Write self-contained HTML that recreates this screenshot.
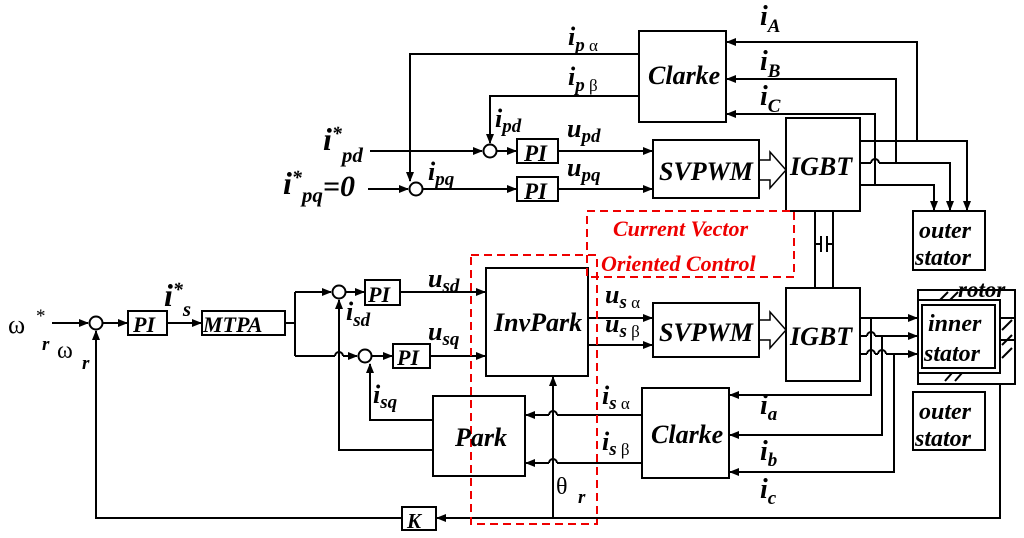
<!DOCTYPE html><html><head><style>body{margin:0;background:#fff}svg{display:block}
text{font-family:"Liberation Serif",serif;font-weight:bold;font-style:italic;fill:#000}
.n{font-style:normal;font-weight:normal}
.r{fill:#e00}</style></head><body>
<svg width="1024" height="538" viewBox="0 0 1024 538">
<defs><marker id="a" markerWidth="10" markerHeight="8" refX="9" refY="4" orient="auto" markerUnits="userSpaceOnUse"><path d="M0,0L10,4L0,8z" fill="#000"/></marker></defs>
<g stroke="#000" stroke-width="2" fill="none">
<rect x="639" y="31" width="87" height="91"/>
<rect x="786" y="118" width="74" height="93"/>
<rect x="913" y="211" width="72" height="59"/>
<rect x="653" y="140" width="106" height="58"/>
<rect x="517" y="139" width="41" height="24"/>
<rect x="517" y="177" width="41" height="24"/>
<rect x="786" y="288" width="74" height="93"/>
<rect x="486" y="268" width="102" height="108"/>
<rect x="653" y="303" width="106" height="54"/>
<rect x="642" y="388" width="87" height="90"/>
<rect x="433" y="396" width="92" height="80"/>
<rect x="402" y="507" width="34" height="23"/>
<rect x="128" y="311" width="39" height="24"/>
<rect x="202" y="311" width="83" height="24"/>
<rect x="365" y="280" width="35" height="25"/>
<rect x="393" y="344" width="37" height="24"/>
<rect x="913" y="392" width="72" height="58"/>
<rect x="918" y="290" width="97" height="94"/>
<rect x="918" y="300" width="82" height="73"/>
<rect x="922" y="305" width="73" height="63"/>
<path d="M1000,318H1014M1000,340H1014M1002,330L1012,320M1002,345L1012,335M1002,358L1012,348M940,300L948,292M950,300L958,292M945,381L952,373M955,381L962,373"/>
<circle cx="490" cy="151" r="6.5"/><circle cx="416" cy="189" r="6.5"/>
<circle cx="96" cy="323" r="6.5"/><circle cx="339" cy="292" r="6.5"/><circle cx="365" cy="356" r="6.5"/>
<path d="M370,151H482" marker-end="url(#a)"/>
<path d="M497,151H516" marker-end="url(#a)"/>
<path d="M558,151H652" marker-end="url(#a)"/>
<path d="M368,189H408" marker-end="url(#a)"/>
<path d="M423,189H516" marker-end="url(#a)"/>
<path d="M558,189H652" marker-end="url(#a)"/>
<path d="M639,54H410V181" marker-end="url(#a)"/>
<path d="M639,96H490V143" marker-end="url(#a)"/>
<path d="M917,141V42H727" marker-end="url(#a)"/>
<path d="M896,163V79H727" marker-end="url(#a)"/>
<path d="M875,185V114H727" marker-end="url(#a)"/>
<path d="M860,141H967V210" marker-end="url(#a)"/>
<path d="M860,163H871M879,163H950V210" marker-end="url(#a)"/>
<path d="M860,185H934V210" marker-end="url(#a)"/>
<path d="M871,163a4,4 0 0 1 8,0"/>
<path d="M815,211V288M833,211V288M815,244H821M827,244H833M821,236V252M827,236V252"/>
<path d="M759,160H770V152L786,170L770,188V180H759" stroke-width="1.5"/>
<path d="M759,320H770V312L786,330L770,348V340H759" stroke-width="1.5"/>
<path d="M52,323H88" marker-end="url(#a)"/>
<path d="M103,323H127" marker-end="url(#a)"/>
<path d="M167,323H201" marker-end="url(#a)"/>
<path d="M285,323H295M295,292V356"/>
<path d="M295,292H331" marker-end="url(#a)"/>
<path d="M346,292H364" marker-end="url(#a)"/>
<path d="M295,356H335M343,356H357" marker-end="url(#a)"/>
<path d="M335,356a4,4 0 0 1 8,0"/>
<path d="M372,356H392" marker-end="url(#a)"/>
<path d="M400,292H485" marker-end="url(#a)"/>
<path d="M430,356H485" marker-end="url(#a)"/>
<path d="M433,450H339V300" marker-end="url(#a)"/>
<path d="M433,420H370V364" marker-end="url(#a)"/>
<path d="M588,318H652" marker-end="url(#a)"/>
<path d="M588,345H652" marker-end="url(#a)"/>
<path d="M642,415H557M549,415H526" marker-end="url(#a)"/>
<path d="M642,463H557M549,463H526" marker-end="url(#a)"/>
<path d="M549,415a4,4 0 0 1 8,0M549,463a4,4 0 0 1 8,0"/>
<path d="M553,518V377" marker-end="url(#a)"/>
<path d="M1000,384V518H437" marker-end="url(#a)"/>
<path d="M402,518H96V331" marker-end="url(#a)"/>
<path d="M860,318H917" marker-end="url(#a)"/>
<path d="M860,336H867M875,336H917" marker-end="url(#a)"/>
<path d="M860,354H867M875,354H878M886,354H917" marker-end="url(#a)"/>
<path d="M867,336a4,4 0 0 1 8,0M867,354a4,4 0 0 1 8,0M878,354a4,4 0 0 1 8,0"/>
<path d="M871,318V395H730" marker-end="url(#a)"/>
<path d="M882,336V435H730" marker-end="url(#a)"/>
<path d="M894,354V472H730" marker-end="url(#a)"/>
</g>
<g stroke="#e00" stroke-width="2" fill="none" stroke-dasharray="8,5">
<rect x="471" y="255" width="126" height="269"/>
<rect x="587" y="211" width="207" height="66"/>
</g>
<g font-size="26">
<text x="648" y="84">Clarke</text>
<text x="790" y="175">IGBT</text>
<text x="659" y="180">SVPWM</text>
<text x="524" y="161" font-size="23">PI</text>
<text x="524" y="199" font-size="23">PI</text>
<text x="790" y="345">IGBT</text>
<text x="494" y="331">InvPark</text>
<text x="659" y="341">SVPWM</text>
<text x="651" y="443">Clarke</text>
<text x="455" y="446">Park</text>
<text x="407" y="528" font-size="21">K</text>
<text x="133" y="332" font-size="22">PI</text>
<text x="203" y="332" font-size="22">MTPA</text>
<text x="368" y="302" font-size="22">PI</text>
<text x="397" y="365" font-size="22">PI</text>
<text x="919" y="238" font-size="24">outer</text><text x="915" y="265" font-size="24">stator</text>
<text x="919" y="419" font-size="24">outer</text><text x="915" y="446" font-size="24">stator</text>
<text x="928" y="331" font-size="24">inner</text><text x="924" y="361" font-size="24">stator</text>
<text x="958" y="297" font-size="23">rotor</text>
<text class="r" x="613" y="236" font-size="22">Current Vector</text>
<text class="r" x="601" y="271" font-size="22">Oriented Control</text>
<text x="568" y="45">i<tspan font-size="19" dy="6">p</tspan><tspan font-size="17" class="n"> α</tspan></text>
<text x="568" y="85">i<tspan font-size="19" dy="6">p</tspan><tspan font-size="17" class="n"> β</tspan></text>
<text x="760" y="25" font-size="28">i<tspan font-size="19" dy="7">A</tspan></text>
<text x="760" y="70" font-size="28">i<tspan font-size="19" dy="7">B</tspan></text>
<text x="760" y="105" font-size="28">i<tspan font-size="19" dy="7">C</tspan></text>
<text x="495" y="127">i<tspan font-size="19" dy="5">pd</tspan></text>
<text x="428" y="180">i<tspan font-size="19" dy="5">pq</tspan></text>
<text x="567" y="137">u<tspan font-size="19" dy="5">pd</tspan></text>
<text x="567" y="176">u<tspan font-size="19" dy="5">pq</tspan></text>
<text x="323" y="150" font-size="32">i<tspan font-size="20" dy="-10">*</tspan><tspan font-size="21" dy="22">pd</tspan></text>
<text x="283" y="194" font-size="32">i<tspan font-size="20" dy="-10">*</tspan><tspan font-size="21" dy="18">pq</tspan><tspan font-size="30" dy="-6">=0</tspan></text>
<text x="8" y="333" font-size="26" class="n">ω</text>
<text x="36" y="322" font-size="19" class="n">*</text>
<text x="42" y="350" font-size="19">r</text>
<text x="57" y="358" font-size="24" class="n">ω</text>
<text x="82" y="369" font-size="19">r</text>
<text x="164" y="306" font-size="32">i<tspan font-size="20" dy="-10">*</tspan><tspan font-size="21" dy="20">s</tspan></text>
<text x="428" y="287">u<tspan font-size="19" dy="5">sd</tspan></text>
<text x="428" y="340">u<tspan font-size="19" dy="5">sq</tspan></text>
<text x="346" y="320">i<tspan font-size="19" dy="6">sd</tspan></text>
<text x="373" y="403">i<tspan font-size="19" dy="5">sq</tspan></text>
<text x="605" y="303">u<tspan font-size="19" dy="5">s</tspan><tspan font-size="17" class="n"> α</tspan></text>
<text x="605" y="332">u<tspan font-size="19" dy="5">s</tspan><tspan font-size="17" class="n"> β</tspan></text>
<text x="602" y="404">i<tspan font-size="19" dy="5">s</tspan><tspan font-size="17" class="n"> α</tspan></text>
<text x="602" y="450">i<tspan font-size="19" dy="5">s</tspan><tspan font-size="17" class="n"> β</tspan></text>
<text x="556" y="494" font-size="24" class="n">θ</text>
<text x="578" y="503" font-size="19">r</text>
<text x="760" y="414" font-size="28">i<tspan font-size="19" dy="6">a</tspan></text>
<text x="760" y="460" font-size="28">i<tspan font-size="19" dy="6">b</tspan></text>
<text x="760" y="498" font-size="28">i<tspan font-size="19" dy="6">c</tspan></text>
</g>
</svg></body></html>
